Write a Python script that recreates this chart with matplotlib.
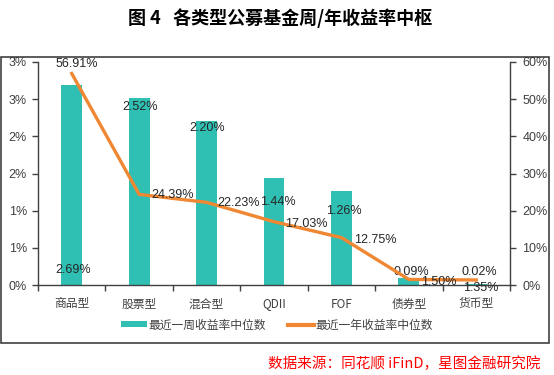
import matplotlib
matplotlib.use("Agg")
import matplotlib.pyplot as plt
from matplotlib.patches import Rectangle
from matplotlib.lines import Line2D
from matplotlib.patches import Patch

plt.rcParams['font.family'] = ['Noto Sans CJK SC', 'DejaVu Sans']

# ---------------- data ----------------
categories = ['商品型', '股票型', '混合型', 'QDII', 'FOF', '债券型', '货币型']
week_median = [2.69, 2.52, 2.20, 1.44, 1.26, 0.09, 0.02]      # left axis, %
year_median = [56.91, 24.39, 22.23, 17.03, 12.75, 1.50, 1.35]  # right axis, %
left_ticks = [0, 0.5, 1.0, 1.5, 2.0, 2.5, 3.0]
left_tick_labels = ['0%', '1%', '1%', '2%', '2%', '3%', '3%']
right_ticks = [0, 10, 20, 30, 40, 50, 60]
right_tick_labels = ['0%', '10%', '20%', '30%', '40%', '50%', '60%']
series_names = ['最近一周收益率中位数', '最近一年收益率中位数']
title = '图 4   各类型公募基金周/年收益率中枢'
source = '数据来源：同花顺 iFinD，星图金融研究院'

# ---------------- layout / style ----------------
# label offsets in pixels (dx, dy) relative to the mark
bar_label_offsets = [(1, -185), (1, -9), (1, -6.5), (4, -24), (2, -20), (2, 6.5), (3, 11.5)]
line_label_offsets = [('center', 5, 9.5), ('left', 12, -0.6), ('left', 11, -0.6),
                      ('left', 11, -2.3), ('left', 13, -2.4), ('left', 12, -2.6),
                      ('center', 4, -8)]
teal = '#30C0B3'
orange = '#F08732'
axis_col = '#404040'
num_font = ['Liberation Sans', 'DejaVu Sans']

W, H = 554, 375
fig = plt.figure(figsize=(W / 100, H / 100), dpi=100)
ax = fig.add_axes([38 / W, 1 - 285 / H, (510 - 38) / W, (285 - 62) / H])
ax2 = ax.twinx()

x = list(range(len(categories)))
ax.bar(x, week_median, width=0.31, color=teal, zorder=2)
ax2.plot(x, year_median, color=orange, lw=2.4, solid_joinstyle='miter', zorder=3)

ax.set_xlim(-0.5, len(categories) - 0.5)
ax.set_ylim(0, 3.0)
ax2.set_ylim(0, 60)

ax.set_yticks(left_ticks)
ax.set_yticklabels(left_tick_labels, family=num_font, fontsize=9, color=axis_col)
ax2.set_yticks(right_ticks)
ax2.set_yticklabels(right_tick_labels, family=num_font, fontsize=9, color=axis_col)

ax.set_xticks([i - 0.5 for i in range(len(categories) + 1)])
ax.set_xticklabels([])
ax.set_xticks(x, minor=True)
ax.set_xticklabels(categories, minor=True, fontsize=8.5, color=axis_col)
ax.tick_params(axis='x', which='minor', length=0, pad=9)
ax.tick_params(axis='x', which='major', length=4, width=1, color=axis_col, direction='out')
ax.tick_params(axis='y', length=4, width=1, color=axis_col, direction='out', pad=4)
ax2.tick_params(axis='y', length=4, width=1, color=axis_col, direction='out', pad=5)

for a in (ax, ax2):
    a.spines['top'].set_visible(False)
    for s in ('left', 'right', 'bottom'):
        a.spines[s].set_color(axis_col)
        a.spines[s].set_linewidth(1)
ax.spines['right'].set_visible(False)
ax2.spines['left'].set_visible(False)
ax2.spines['bottom'].set_visible(False)

# data labels
for i, v in enumerate(week_median):
    dx, dy = bar_label_offsets[i]
    ax.annotate(f'{v:.2f}%', (i, v), xytext=(dx, dy), textcoords='offset pixels',
                ha='center', va='center', fontsize=9, family=num_font,
                color='#262626', zorder=4)
for i, v in enumerate(year_median):
    ha, dx, dy = line_label_offsets[i]
    ax2.annotate(f'{v:.2f}%', (i, v), xytext=(dx, dy), textcoords='offset pixels',
                 ha=ha, va='center', fontsize=9, family=num_font,
                 color='#262626', zorder=4)

# legend
handles = [Patch(facecolor=teal, edgecolor='none'),
           Line2D([], [], color=orange, lw=3)]
fig.legend(handles, series_names, loc='center', bbox_to_anchor=(277 / W, 1 - 325 / H),
           ncol=2, frameon=False, fontsize=8.5, handlelength=2.2, handleheight=0.45,
           handletextpad=0.1, columnspacing=1.9, labelcolor=axis_col)

# outer frame
fig.add_artist(Rectangle((1 / W, 1 - 343 / H), 548 / W, (343 - 57) / H,
                         transform=fig.transFigure, fill=False,
                         edgecolor='#303030', lw=1.1))

fig.text(280 / W, 1 - 18.5 / H, title, ha='center', va='center',
         fontsize=13, fontweight='bold', color='black')
fig.text(540 / W, 1 - 364 / H, source, ha='right', va='center',
         fontsize=10.5, color='#FF0000')

fig.savefig('out.png', dpi=100)
